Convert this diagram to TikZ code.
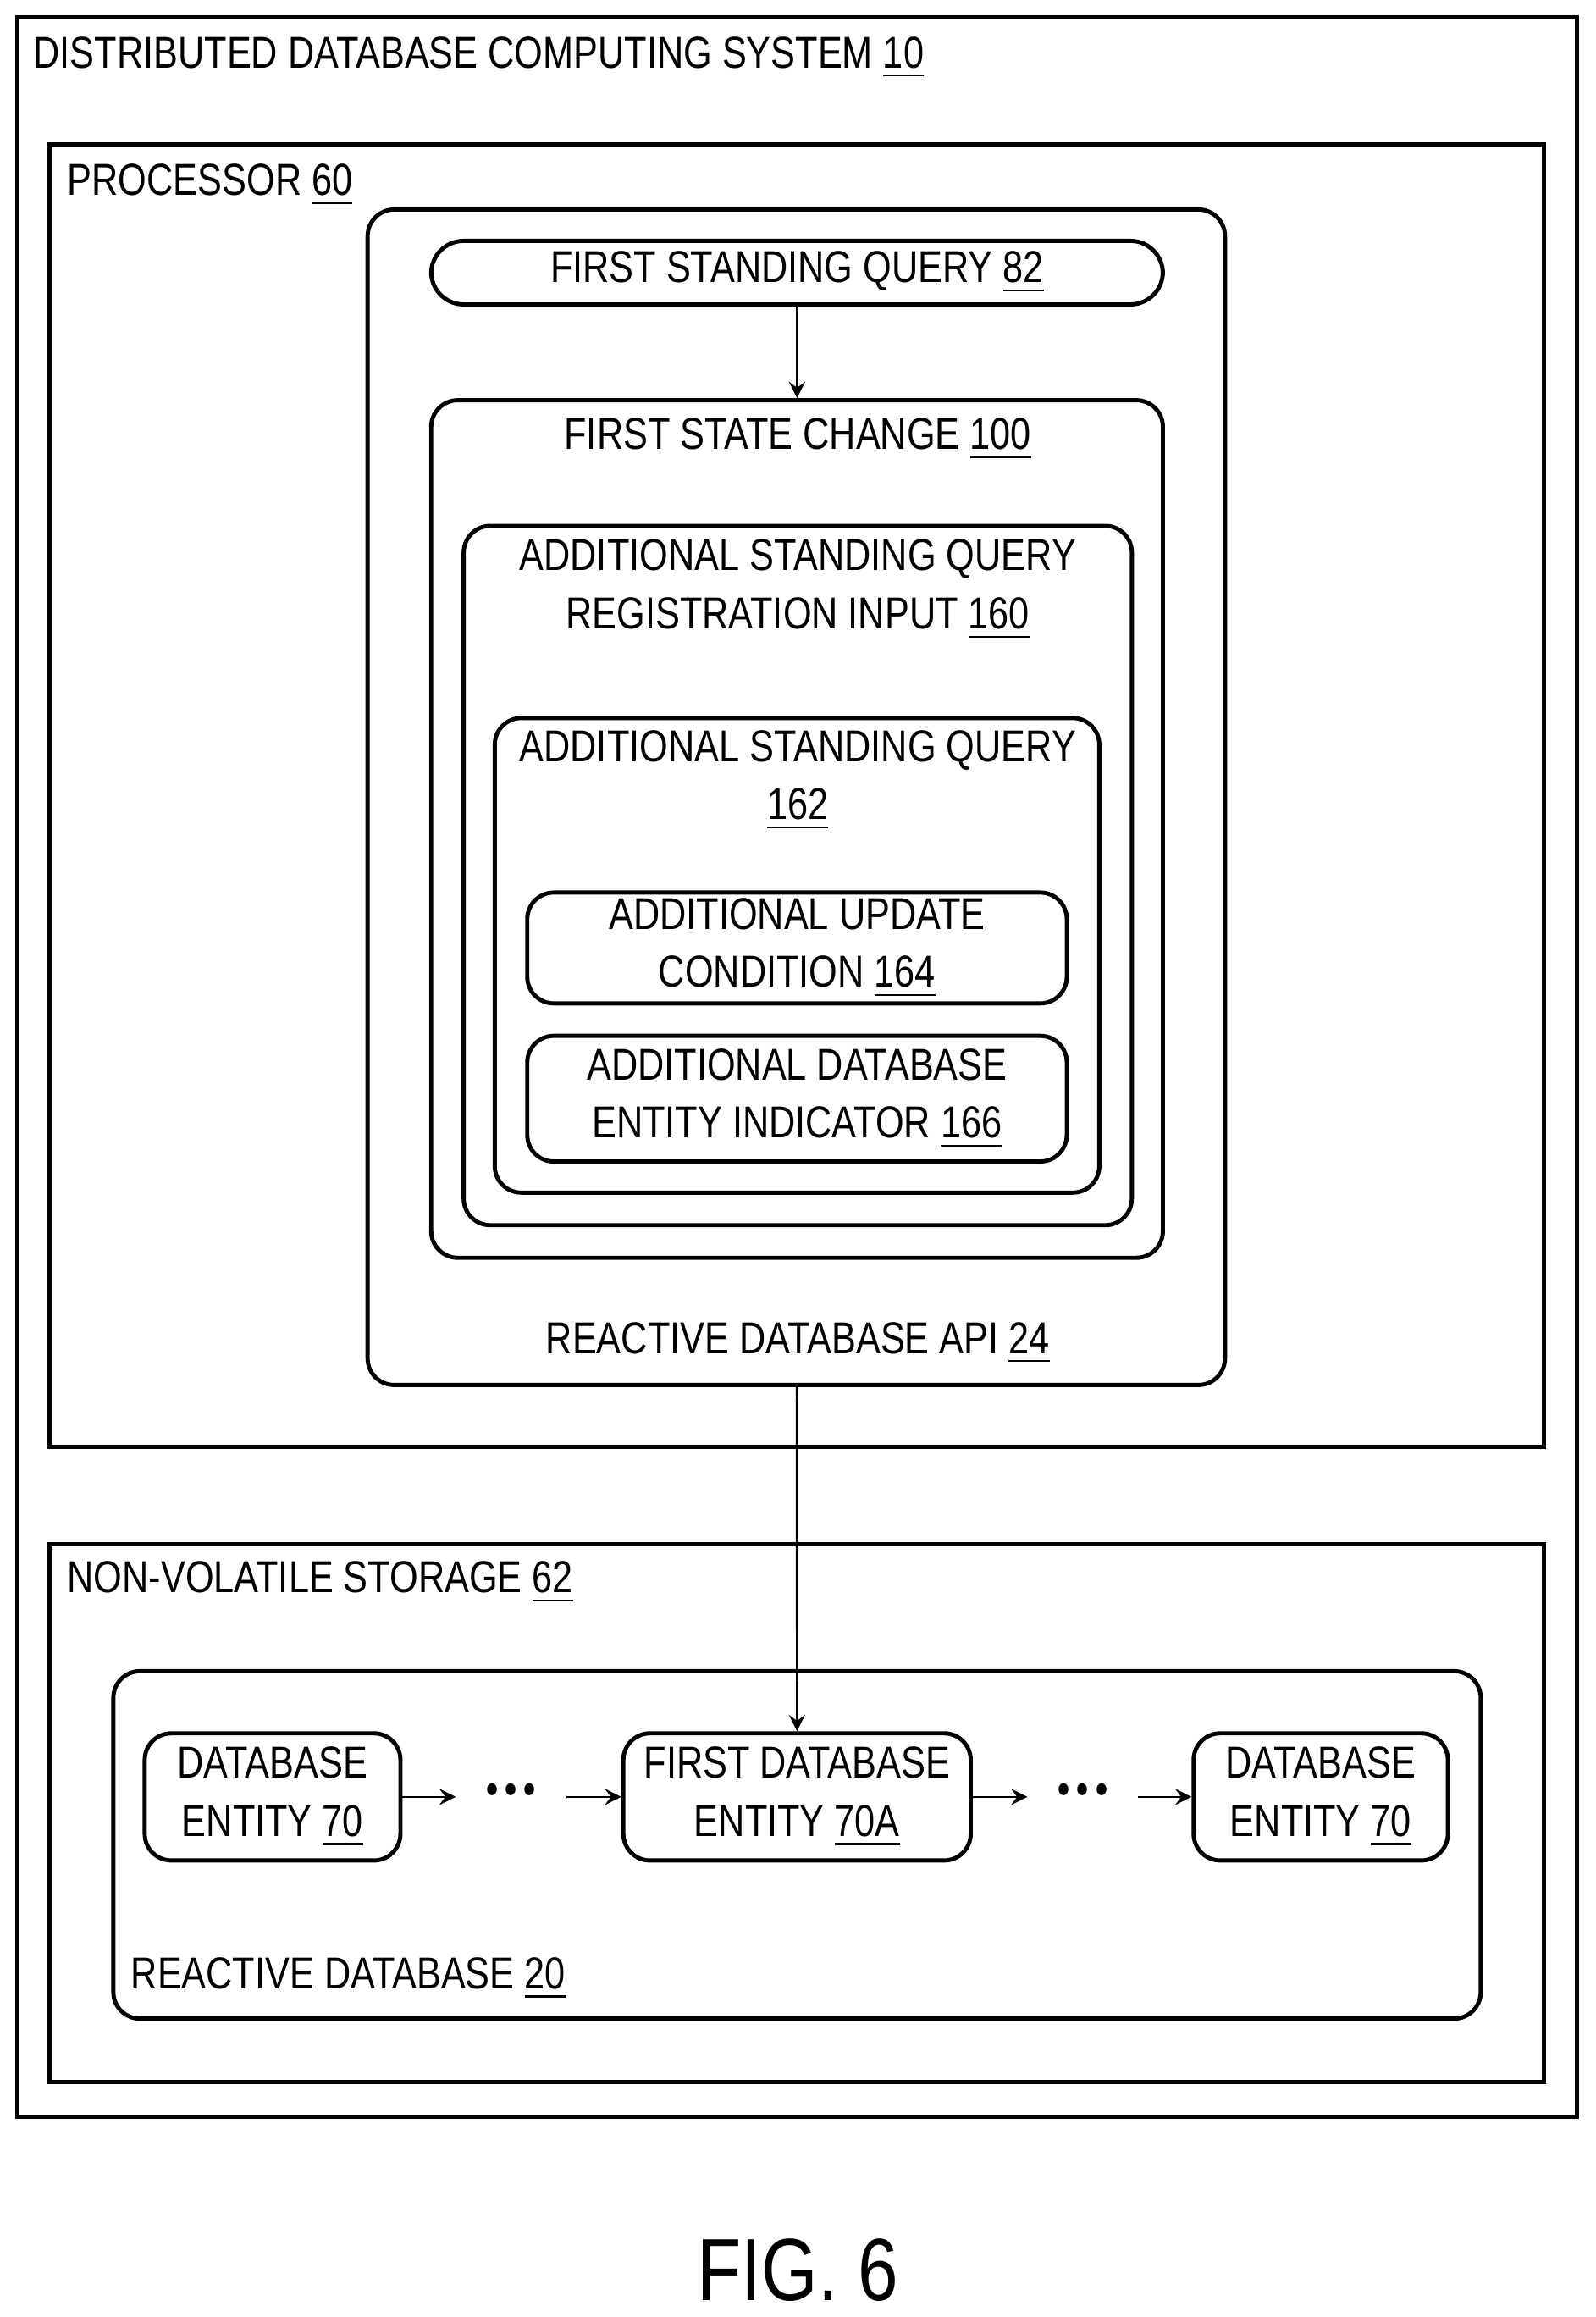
\documentclass[tikz,border=0pt]{standalone}
\usepackage{fontspec}
\setmainfont{Liberation Sans}[FakeStretch=0.82]
\usetikzlibrary{positioning}
\tikzset{
  box/.style={draw,thick,rectangle,inner sep=0pt},
  rbox/.style={box,rounded corners=0.18cm},
  lbl/.style={inner sep=0pt,align=center,font=\fontsize{8.6}{11.2}\selectfont},
  >=stealth
}
\newcommand{\un}[1]{\underline{#1}}
\begin{document}
\begin{tikzpicture}[x=0.01cm,y=-0.01cm]

	\useasboundingbox (0,0) rectangle (1080,1568);

	% outer frames
	\node[box,minimum width=10.55cm,minimum height=14.20cm] (sys) at (539.5,722) {};
	\node[lbl,anchor=west] at (22,39) {DISTRIBUTED DATABASE COMPUTING SYSTEM \un{10}};
	\node[box,minimum width=10.11cm,minimum height=8.81cm] (proc) at (539.5,538.5) {};
	\node[lbl,anchor=west] at (45,125) {PROCESSOR \un{60}};

	% api
	\node[rbox,minimum width=5.80cm,minimum height=7.95cm] (api) at (539,539.5) {};
	\node[lbl] at (540,909) {REACTIVE DATABASE API \un{24}};
	\node[box,rounded corners=0.22cm,minimum width=4.95cm,minimum height=0.43cm,lbl] (query) at (539.5,184.5) {FIRST STANDING QUERY \un{82}};
	\node[rbox,minimum width=4.95cm,minimum height=5.80cm] (change) at (539.5,561) {};
	\node[lbl] at (540,297) {FIRST STATE CHANGE \un{100}};
	\node[rbox,minimum width=4.52cm,minimum height=4.73cm] (reg) at (540,592.5) {};
	\node[lbl] at (540,399) {ADDITIONAL STANDING QUERY\\REGISTRATION INPUT \un{160}};
	\node[rbox,minimum width=4.09cm,minimum height=3.21cm] (addq) at (539.5,646.5) {};
	\node[lbl] at (540,528) {ADDITIONAL STANDING QUERY\\\un{162}};
	\node[rbox,minimum width=3.65cm,minimum height=0.75cm,lbl] (cond) at (539.5,641.5) {ADDITIONAL UPDATE\\CONDITION \un{164}};
	\node[rbox,minimum width=3.65cm,minimum height=0.85cm,lbl] (ind) at (539.5,743.5) {ADDITIONAL DATABASE\\ENTITY INDICATOR \un{166}};

	% storage
	\node[box,minimum width=10.11cm,minimum height=3.64cm] (store) at (539.5,1227) {};
	\node[lbl,anchor=west] at (45,1071) {NON-VOLATILE STORAGE \un{62}};
	\node[rbox,minimum width=9.25cm,minimum height=2.35cm] (rdb) at (539.5,1248.5) {};
	\node[lbl,anchor=west] at (88,1339) {REACTIVE DATABASE \un{20}};
	\node[rbox,minimum width=1.73cm,minimum height=0.86cm,lbl] (ent1) at (184.5,1216) {DATABASE\\ENTITY \un{70}};
	\node[rbox,minimum width=2.35cm,minimum height=0.86cm,lbl] (entA) at (539.5,1216) {FIRST DATABASE\\ENTITY \un{70A}};
	\node[rbox,minimum width=1.72cm,minimum height=0.86cm,lbl] (ent2) at (894,1216) {DATABASE\\ENTITY \un{70}};
	\node[lbl,inner xsep=0.2cm,font=\bfseries\fontsize{8}{10}\selectfont] (dots1) at (346,1214) {\textbullet\,\textbullet\,\textbullet};
	\node[lbl,inner xsep=0.2cm,font=\bfseries\fontsize{8}{10}\selectfont] (dots2) at (733,1214) {\textbullet\,\textbullet\,\textbullet};

	% connectors
	\draw[->] (query) -- (change);
	\draw[->] (api) -- (entA);
	\draw[->] (ent1.east) -- (dots1.west |- ent1.east);
	\draw[->] (dots1.east |- entA.west) -- (entA.west);
	\draw[->] (entA.east) -- (dots2.west |- entA.east);
	\draw[->] (dots2.east |- ent2.west) -- (ent2.west);

	\node[lbl,font=\fontsize{17}{20}\selectfont] (fig) at (540,1536) {FIG. 6};

\end{tikzpicture}
\end{document}
